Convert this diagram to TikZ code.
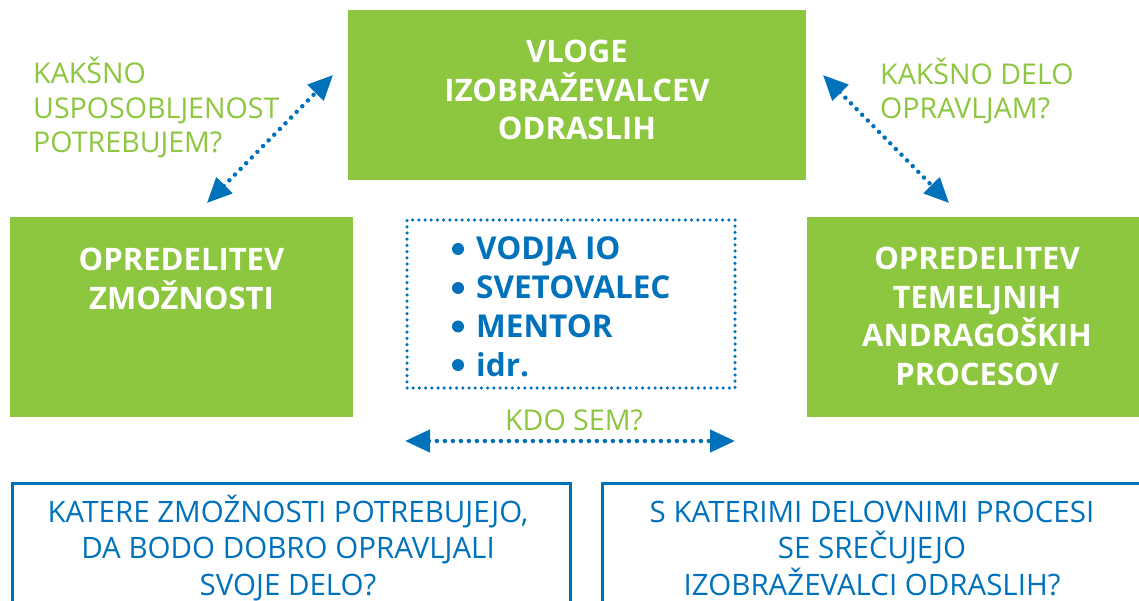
\documentclass[tikz,border=0pt]{standalone}
\usepackage{fontspec}
\setmainfont{Open Sans}
\usetikzlibrary{arrows.meta}
\definecolor{gr}{RGB}{141,198,63}
\definecolor{bl}{RGB}{0,114,188}
\begin{document}
\begin{tikzpicture}[x=1pt,y=-1pt,
  gbox/.style={fill=gr, draw=none, inner sep=0pt},
  obox/.style={draw=bl, line width=3pt, inner sep=0pt},
  wtext/.style={text=white, font=\bfseries\fontsize{31}{38.5}\selectfont, align=center, anchor=base, inner sep=0pt},
  qtext/.style={text=gr, font=\fontsize{28.6}{34.5}\selectfont, align=left, anchor=base west, inner sep=0pt},
  btext/.style={text=bl, font=\fontsize{29.5}{36.5}\selectfont, align=center, anchor=base, inner sep=0pt},
  ltext/.style={text=bl, font=\bfseries\fontsize{31.5}{38.7}\selectfont, align=left, anchor=base west, inner sep=0pt},
  bulletdot/.style={circle, fill=bl, inner sep=0pt, minimum size=12pt},
  dotbox/.style={draw=bl, line width=3.5pt, line cap=round, dash pattern=on 0pt off 6.2pt, inner sep=0pt},
  dotarrow/.style={draw=bl, line width=4.5pt, line cap=round, dash pattern=on 0pt off 8pt,
    {Triangle[length=25pt,width=22pt]}-{Triangle[length=25pt,width=22pt]}}
]
\useasboundingbox (0,0) rectangle (1139,601);
\clip (0,0) rectangle (1139,601);
\fill[white] (0,0) rectangle (1139,601);

% green boxes
\node[gbox, minimum width=458pt, minimum height=170pt] (top) at (577,95) {};
\node[gbox, minimum width=343pt, minimum height=200pt] (left) at (181.5,317) {};
\node[gbox, minimum width=342pt, minimum height=200pt] (right) at (978,317) {};

\node[wtext] (toptxt) at (577,140) {VLOGE\\IZOBRAŽEVALCEV\\ODRASLIH};
\node[wtext] (lefttxt) at (181.5,309) {OPREDELITEV\\ZMOŽNOSTI};
\node[wtext] (righttxt) at (977,385) {OPREDELITEV\\TEMELJNIH\\ANDRAGOŠKIH\\PROCESOV};

% questions in green
\node[qtext] (q1) at (33,153) {KAKŠNO\\USPOSOBLJENOST\\POTREBUJEM?};
\node[qtext] (q2) at (880,119) {KAKŠNO DELO\\OPRAVLJAM?};
\node[text=gr, font=\fontsize{28.6}{34.5}\selectfont, anchor=base, inner sep=0pt] (q3) at (574,430) {KDO SEM?};

% dotted role box
\node[dotbox, minimum width=328pt, minimum height=168pt] (roles) at (571,304) {};
\node[ltext] (list) at (476,376) {VODJA IO\\SVETOVALEC\\MENTOR\\idr.};
\node[bulletdot] (b1dot) at (458,249) {};
\node[bulletdot] (b2dot) at (458,288) {};
\node[bulletdot] (b3dot) at (458,326.5) {};
\node[bulletdot] (b4dot) at (458,365) {};

% arrows
\coordinate (a1) at (333,75);
\coordinate (a2) at (207,203);
\coordinate (b1) at (823,75);
\coordinate (b2) at (949,203);
\coordinate (c1) at (405,441);
\coordinate (c2) at (735,441);
\draw[dotarrow] (a2) -- (a1);
\draw[dotarrow] (b1) -- (b2);
\draw[dotarrow] (c1) -- (c2);

% bottom boxes
\node[obox, minimum width=558pt, minimum height=140pt] (bl) at (291,553) {};
\node[obox, minimum width=548pt, minimum height=140pt] (br) at (876,553) {};
\node[btext] (bltxt) at (288,595) {KATERE ZMOŽNOSTI POTREBUJEJO,\\DA BODO DOBRO OPRAVLJALI\\SVOJE DELO?};
\node[btext] (brtxt) at (872,595) {S KATERIMI DELOVNIMI PROCESI\\SE SREČUJEJO\\IZOBRAŽEVALCI ODRASLIH?};
\end{tikzpicture}
\end{document}
